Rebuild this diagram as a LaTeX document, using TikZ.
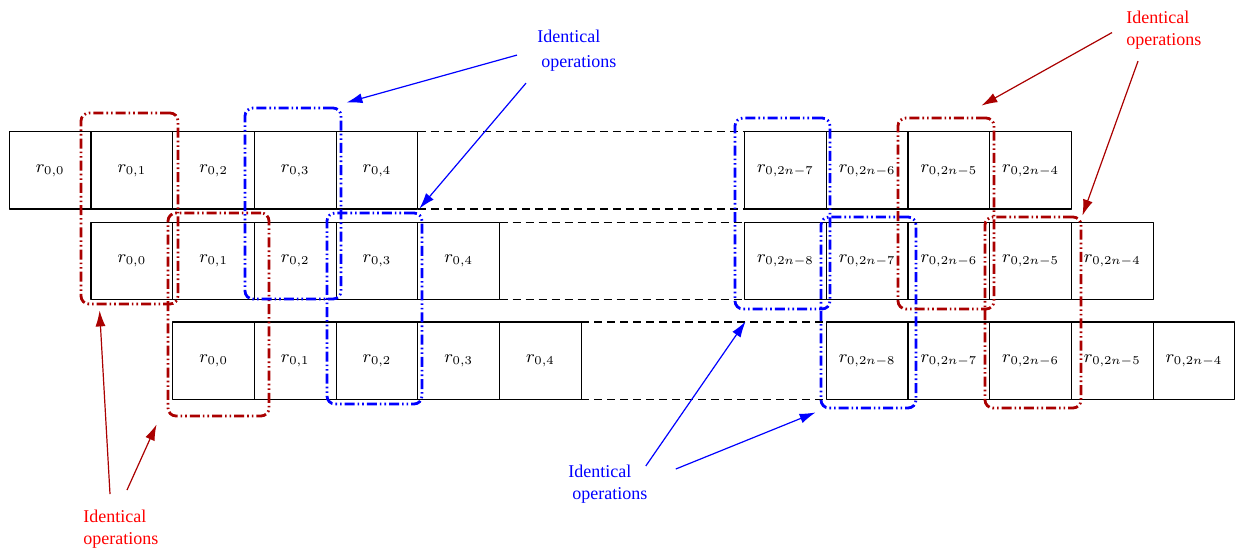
\documentclass[tikz,border=0pt]{standalone}
\usepackage[no-math]{fontspec}
\setmainfont{Liberation Serif}
\usetikzlibrary{arrows.meta,fit}
\definecolor{opred}{RGB}{170,0,0}

\begin{document}
\begin{tikzpicture}[x=0.5pt, y=-0.5pt, line join=round,
  cell/.style={draw, line width=0.6pt, minimum width=40.85pt, minimum height=38.6pt,
    inner sep=0pt, outer sep=0pt, anchor=north west, font=\fontsize{9}{11}\selectfont},
  gap/.style={line width=0.6pt, dash pattern=on 4pt off 2.5pt},
  opbox/.style={draw, line width=1.4pt, rounded corners=4pt, inner sep=0pt,
    dash pattern=on 5pt off 1.5pt on 0.8pt off 1.5pt on 0.8pt off 1.5pt},
  redop/.style={opbox, opred},
  blueop/.style={opbox, blue},
  note/.style={align=left, inner sep=0pt, anchor=north west, font=\fontsize{9}{11}\selectfont},
  ptr/.style={-{Latex[length=8pt,width=5pt]}, line width=0.6pt}]
  \useasboundingbox (0,0) rectangle (1235,548);
  % first row
  \foreach \k/\s in {0/0,1/1,2/2,3/3,4/4,9/2n-7,10/2n-6,11/2n-5,12/2n-4} {
    \node[cell] (a\k) at ({9.3+81.7*\k},131.7) {$r_{0,\s}$};
  }
  % second row
  \foreach \k/\s in {1/0,2/1,3/2,4/3,5/4,9/2n-8,10/2n-7,11/2n-6,12/2n-5,13/2n-4} {
    \node[cell] (b\k) at ({9.3+81.7*\k},222.3) {$r_{0,\s}$};
  }
  % third row
  \foreach \k/\s in {2/0,3/1,4/2,5/3,6/4,10/2n-8,11/2n-7,12/2n-6,13/2n-5,14/2n-4} {
    \node[cell] (c\k) at ({9.3+81.7*\k},322) {$r_{0,\s}$};
  }
  % gaps
  \draw[gap] (a4.north east) -- (a9.north west) (a4.south east) -- (a9.south west);
  \draw[gap] (b5.north east) -- (b9.north west) (b5.south east) -- (b9.south west);
  \draw[gap] (c6.north east) -- (c10.north west) (c6.south east) -- (c10.south west);
  % identical operations
  \node[redop, fit={(81,113) (178,304)}] (red1) {};
  \node[redop, fit={(168,213) (269,416)}] (red2) {};
  \node[blueop, fit={(245,108) (341,299)}] (blue1) {};
  \node[blueop, fit={(327,213) (422,404)}] (blue2) {};
  \node[blueop, fit={(735,118) (830,309)}] (blue3) {};
  \node[blueop, fit={(821,217) (916,408)}] (blue4) {};
  \node[redop, fit={(898,118) (994,309)}] (red3) {};
  \node[redop, fit={(985,217) (1081,408)}] (red4) {};
  % notes
  \node[note, blue] (sameA) at (537,30) {Identical\\[1.5pt]\hspace*{2pt}operations};
  \node[note, red] (sameB) at (1126,11) {Identical\\operations};
  \node[note, red] (sameC) at (83,510) {Identical\\operations};
  \node[note, blue] (sameD) at (568,465) {Identical\\\hspace*{2pt}operations};
  % pointers
  \draw[ptr, blue] ([shift={(-20,4)}]sameA.west) -- ([shift={(4,-4)}]blue1.north east);
  \draw[ptr, blue] ([shift={(-11,11)}]sameA.south west) -- ([shift={(-4,-3)}]blue2.north east);
  \draw[ptr, opred] ([shift={(-14,2)}]sameB.west) -- ([shift={(-14,-11)}]red3.north east);
  \draw[ptr, opred] ([shift={(12,11)}]sameB.south west) -- (red4.north east);
  \draw[ptr, opred] ([shift={(27,-16)}]sameC.north west) -- ([shift={(20,5)}]red1.south west);
  \draw[ptr, opred] ([shift={(44,-20)}]sameC.north west) -- ([shift={(-10,7)}]red2.south west);
  \draw[ptr, blue] ([shift={(-2,1)}]sameD.north east) -- ([shift={(12,11)}]blue3.south west);
  \draw[ptr, blue] ([shift={(28,4)}]sameD.north east) -- ([shift={(-4,3)}]blue4.south west);
\end{tikzpicture}
\end{document}
